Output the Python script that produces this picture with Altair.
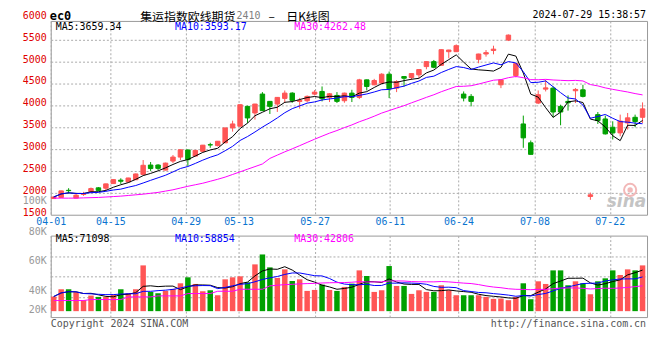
import json
import altair as alt
import numpy as np
import pandas as pd

# ---------------- data ----------------
OPEN = [1870, 1894, 2058, 1880, 1962, 2030, 2115, 2106, 2212, 2290,
        2250, 2300, 2420, 2636, 2636, 2520, 2727, 2818, 2980, 2841,
        2950, 3100, 3080, 3143, 3484, 3523, 3977, 3826, 4258, 4091,
        4030, 4159, 4280, 4090, 4106, 4258, 4318, 4182, 4227, 4106,
        4280, 4182, 4583, 4470, 4508, 4712, 4394, 4659, 4636, 4697,
        4886, 5000, 4916, 5227, 5227, 4258, 4205, 5053, 5174, 5255,
        4470, 5492, 4680, 3575, 3144, 4053, 4371, 4394, 3977, 4091,
        4334, 4356, 1917, 3788, 3689, 3500, 3371, 3598, 3727, 3727]
HIGH = [1915, 2050, 2106, 1990, 2023, 2121, 2130, 2210, 2310, 2333,
        2345, 2440, 2750, 2705, 2655, 2690, 2864, 2990, 2985, 2980,
        3095, 3145, 3185, 3490, 3650, 4020, 3992, 4035, 4303, 4100,
        4190, 4340, 4300, 4170, 4227, 4348, 4432, 4280, 4303, 4290,
        4356, 4606, 4590, 4606, 4735, 4773, 4575, 4665, 4730, 4820,
        5005, 5038, 5280, 5270, 5394, 4318, 4258, 5180, 5265, 5364,
        4590, 5621, 4965, 3766, 3197, 4341, 4583, 4432, 4015, 4227,
        4394, 4470, 2007, 3848, 3766, 3636, 3788, 3826, 3788, 4068]
LOW = [1860, 1890, 1992, 1875, 1932, 2025, 2040, 2040, 2205, 2205,
       2242, 2295, 2415, 2500, 2520, 2515, 2682, 2750, 2615, 2835,
       2935, 3030, 3060, 3140, 3400, 3520, 3598, 3674, 3870, 3803,
       3850, 4053, 4060, 3925, 4068, 4227, 4091, 4076, 4053, 4060,
       4076, 4144, 4341, 4460, 4500, 4167, 4303, 4432, 4583, 4621,
       4825, 4848, 4910, 5076, 5220, 4091, 3977, 4962, 5114, 5167,
       4394, 5470, 4640, 3030, 2875, 4030, 4318, 3727, 3545, 3879,
       4053, 4182, 1841, 3575, 3333, 3220, 3295, 3447, 3500, 3598]
CLOSE = [1905, 2045, 2050, 1947, 1978, 2098, 2055, 2205, 2303, 2265,
         2340, 2432, 2630, 2555, 2560, 2680, 2818, 2985, 2760, 2970,
         3090, 3095, 3180, 3484, 3575, 4015, 3712, 4030, 3880, 3977,
         4182, 4280, 4114, 4110, 4205, 4303, 4152, 4265, 4091, 4280,
         4182, 4583, 4432, 4568, 4712, 4380, 4545, 4620, 4727, 4818,
         5000, 4871, 5273, 5265, 5364, 4167, 4091, 5174, 5205, 5285,
         4583, 5606, 4955, 3257, 2880, 4243, 4400, 3848, 3848, 4060,
         4364, 4205, 1955, 3652, 3348, 3370, 3640, 3715, 3630, 3920]
VOLUME = [25300, 37950, 37950, 32800, 19000, 27000, 24700, 24700, 28750, 37950,
          31050, 37950, 79350, 33350, 31050, 35100, 38500, 48300, 58650, 47150,
          34500, 36200, 27600, 55200, 58650, 60400, 50000, 81100, 98300, 75900,
          57500, 72450, 52300, 55200, 35100, 36800, 46000, 36800, 35100, 42000,
          47700, 70700, 60950, 33350, 36200, 78200, 43700, 43700, 29900, 36200,
          33350, 33350, 44850, 36200, 27600, 27600, 27600, 27600, 24700, 21300,
          21850, 19000, 24700, 48300, 20700, 51750, 47150, 70700, 70700, 44850,
          51750, 48300, 29300, 51750, 56900, 70700, 62700, 72450, 70700, 79350]
# MA30 lines before a full 30-day window exists
MA30_PRICE_EARLY = [1879, 1879, 1879, 1880, 1885, 1890, 1895, 1905, 1915, 1925,
                    1940, 1955, 1970, 1990, 2010, 2040, 2070, 2110, 2150, 2185,
                    2220, 2265, 2310, 2360, 2420, 2480, 2540, 2600, 2660]
MA30_VOL_EARLY = [18400, 18400, 18400, 18400, 18400, 20100, 20100, 20100, 20100, 20100,
                  24700, 24700, 24700, 24700, 26450, 26450, 26450, 26450, 30500, 30500,
                  30500, 30500, 34500, 34500, 34500, 37950, 37950, 37950, 37950]

TICK_LABELS = ["04-01", "04-15", "04-29", "05-13", "05-27", "06-11", "06-24", "07-08", "07-22"]
TICK_AT = [-0.4, 7.6, 17.7, 24.8, 35.0, 45.1, 54.3, 64.5, 74.6]
PRICE_LABELS = [6000, 5500, 5000, 4500, 4000, 3500, 3000, 2500, 2000, 1500]
VOL_LABELS = ["100K", "80K", "60K", "40K", "20K"]
VOL_LABEL_AT = [191300, 137900, 86200, 35000, 1760]

LEGEND_PRICE = ["MA5:3659.34", "MA10:3593.17", "MA30:4262.48"]
LEGEND_VOL = ["MA5:71098", "MA10:58854", "MA30:42806"]

# ---------------- styling ----------------
W, H1, H2 = 600, 195, 82
PRICE_DOMAIN = [1500, 5930]
VOL_DOMAIN = [-10300, 131000]
RED, GREEN = "#ff5555", "#00a000"
MA_COLORS = ["#000000", "#0000ff", "#ff00ff"]
MONO = "DejaVu Sans Mono"
CJK = "Noto Sans CJK SC"
GRID = dict(grid=True, gridColor="#aaaaaa", gridDash=[2, 2], gridWidth=1,
            domain=False, ticks=False, title=None)

# ---------------- table ----------------
n = len(CLOSE)
df = pd.DataFrame(dict(i=np.arange(n), open=OPEN, high=HIGH, low=LOW, close=CLOSE, vol=VOLUME))
df["dir"] = np.where(df["close"] >= df["open"], "up", "down")
for w in (5, 10):
    df[f"ma{w}"] = df["close"].rolling(w, min_periods=1).mean()
    df[f"vma{w}"] = df["vol"].rolling(w, min_periods=1).mean()
m30 = df["close"].rolling(30).mean().to_numpy()
m30[:len(MA30_PRICE_EARLY)] = MA30_PRICE_EARLY
df["ma30"] = m30
v30 = df["vol"].rolling(30).mean().to_numpy()
v30[:len(MA30_VOL_EARLY)] = MA30_VOL_EARLY
df["vma30"] = v30

label_expr = f"{json.dumps(TICK_LABELS)}[indexof({json.dumps(TICK_AT)}, datum.value)]"
x_scale = alt.Scale(domain=[-0.4, 79.6], nice=False, zero=False, padding=0)
x_axis_price = alt.Axis(values=TICK_AT, labelExpr=label_expr, labelFont=MONO, labelFontSize=10,
                        labelColor="#0a74d0", labelPadding=2, labelFlush=False,
                        labelOverlap=False, **GRID)
x_axis_vol = alt.Axis(values=TICK_AT, labels=False, **GRID)
y_scale_p = alt.Scale(domain=PRICE_DOMAIN, nice=False, zero=False, padding=0)
y_axis_p = alt.Axis(values=PRICE_LABELS[1:-1], labels=False, **GRID)
y_scale_v = alt.Scale(domain=VOL_DOMAIN, nice=False, zero=False, padding=0)
vstep = (VOL_DOMAIN[1] - VOL_DOMAIN[0]) / 4
y_axis_v = alt.Axis(values=[VOL_DOMAIN[0] + k * vstep for k in (1, 2, 3)], labels=False, **GRID)


def xp(axis):
    return alt.X("i:Q", scale=x_scale, axis=axis)


def yp(f):
    return alt.Y(f, scale=y_scale_p, axis=y_axis_p)


def yv(f):
    return alt.Y(f, scale=y_scale_v, axis=y_axis_v)


def txt(s, x, y, color="#000000", size=10, font=MONO, align="left", weight="normal", style="normal"):
    return alt.Chart(pd.DataFrame({"t": [s]})).mark_text(
        align=align, baseline="middle", font=font, fontSize=size, color=color,
        fontWeight=weight, fontStyle=style).encode(x=alt.value(x), y=alt.value(y), text="t:N")


dir_scale = alt.Scale(domain=["up", "down"], range=[RED, GREEN])
base = alt.Chart(df)
wick = base.mark_rule(strokeWidth=1).encode(
    x=xp(x_axis_price), y=yp("low:Q"), y2="high:Q",
    color=alt.Color("dir:N", scale=dir_scale, legend=None))
body = base.mark_bar(size=4.5, strokeWidth=1).encode(
    x=xp(x_axis_price), y=yp("open:Q"), y2="close:Q",
    color=alt.Color("dir:N", scale=dir_scale, legend=None),
    stroke=alt.Stroke("dir:N", scale=dir_scale, legend=None))
ma_lines = [base.mark_line(strokeWidth=1, color=c).encode(x=xp(x_axis_price), y=yp(f"{f}:Q"))
            for f, c in zip(["ma5", "ma10", "ma30"], MA_COLORS)]
price_labels = alt.Chart(pd.DataFrame({"v": PRICE_LABELS})).mark_text(
    align="right", baseline="middle", font=MONO, fontSize=10, color="#e00000", dy=-2).encode(
    x=alt.value(-4), y=yp("v:Q"), text=alt.Text("v:Q", format="d"))

# sina watermark (eye + word)
eye_ring = alt.Chart(pd.DataFrame({"t": [0]})).mark_point(
    shape="circle", size=150, filled=False, color="#f2b8b8", strokeWidth=2, opacity=1).encode(
    x=alt.value(583), y=alt.value(170))
eye_dot = alt.Chart(pd.DataFrame({"t": [0]})).mark_point(
    shape="circle", size=30, filled=True, color="#f2b8b8", opacity=1).encode(
    x=alt.value(583), y=alt.value(170))

price_texts = [
    txt("ec0", -1, -5, size=12, weight="bold"),
    txt("集运指数欧线期货", 90, -4, size=12, font=CJK),
    txt("2410", 187, -4.5, color="#808080", size=10),
    txt("–", 219, -4, size=12, font=CJK),
    txt("日K线图", 237, -4, size=12, font=CJK),
    txt("2024-07-29 15:38:57", 599, -6, align="right"),
    txt("sina", 599, 182, color="#c4c4c4", size=17, font="DejaVu Sans", align="right",
        weight="bold", style="italic"),
] + [txt(s, x, 6, color=c) for s, x, c in zip(LEGEND_PRICE, [5, 125, 245], MA_COLORS)]

price = alt.layer(wick, body, *ma_lines, eye_ring, eye_dot, price_labels, *price_texts).properties(
    width=W, height=H1)

vbars = base.mark_bar(size=5.5).encode(
    x=xp(x_axis_vol), y=yv("vol:Q"), y2=alt.datum(0),
    color=alt.Color("dir:N", scale=dir_scale, legend=None))
vma_lines = [base.mark_line(strokeWidth=1, color=c).encode(x=xp(x_axis_vol), y=yv(f"{f}:Q"))
             for f, c in zip(["vma5", "vma10", "vma30"], MA_COLORS)]
vol_labels = alt.Chart(pd.DataFrame({"v": VOL_LABEL_AT, "t": VOL_LABELS})).mark_text(
    align="right", baseline="middle", font=MONO, fontSize=10, color="#999999").encode(
    x=alt.value(-4), y=yv("v:Q"), text="t:N")
vol_texts = [txt(s, x, 3.5, color=c) for s, x, c in zip(LEGEND_VOL, [5, 125, 245], MA_COLORS)] + [
    txt("Copyright 2024 SINA.COM", 0, 88.5, color="#555555"),
    txt("http://finance.sina.com.cn", 599, 88.5, color="#555555", align="right"),
]
vol = alt.layer(vbars, *vma_lines, vol_labels, *vol_texts).properties(width=W, height=H2)

chart = alt.vconcat(price, vol, spacing=21, bounds="flush").properties(
    padding={"left": 14, "top": 0, "right": 4, "bottom": 4},
    background="#ffffff",
).configure_view(stroke="#999999", strokeWidth=1)

chart.save("out.html", embed_options={"renderer": "svg", "actions": False})
